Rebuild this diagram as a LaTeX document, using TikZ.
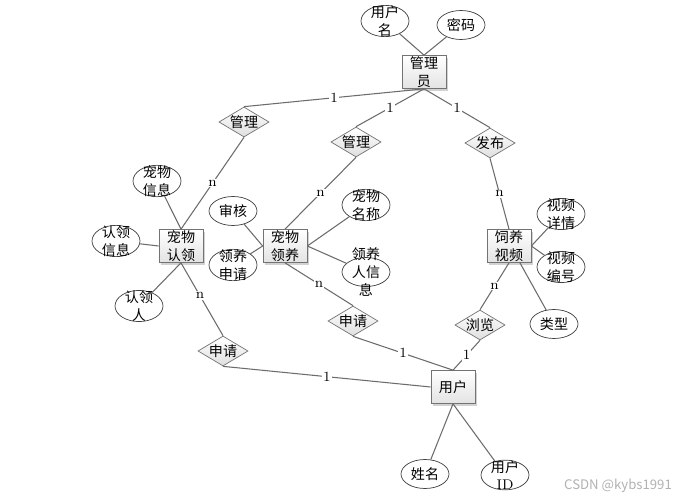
\documentclass[tikz,border=0pt]{standalone}
\usepackage{fontspec}
\newfontfamily\cjk{Noto Sans CJK SC}
\usetikzlibrary{shapes.geometric, shadows}

\tikzset{
	entity/.style={draw=gray!90!black, top color=white, bottom color=gray!22, minimum width=0.88cm, minimum height=0.66cm, inner sep=0.5pt, align=center, drop shadow={shadow xshift=1.2pt, shadow yshift=-1.2pt, fill=black!35, opacity=0.5}},
	attr/.style={ellipse, draw=black!75, fill=white, minimum width=0.96cm, minimum height=0.58cm, inner xsep=0pt, inner ysep=-2.4pt, align=center},
	rel/.style={diamond, draw=gray!90!black, top color=white, bottom color=gray!25, minimum width=1cm, minimum height=0.6cm, inner sep=0pt, aspect=1.7},
	link/.style={draw=gray!85!black, line width=0.6pt},
	card/.style={fill=white, inner sep=0.6pt, font=\rmfamily\fontsize{8}{9}\selectfont},
}

\begin{document}
\begin{tikzpicture}[x=0.02cm, y=-0.02cm, font=\cjk\fontsize{8}{10}\selectfont]
	\useasboundingbox[fill=white] (0,0) rectangle (679,500);
	% entities
	\node[entity] (gly) at (424,72) {管理\\员};
	\node[entity] (cwrl) at (181,246) {宠物\\认领};
	\node[entity] (cwly) at (285,246) {宠物\\领养};
	\node[entity] (slsp) at (509,246) {饲养\\视频};
	\node[entity] (yh) at (453,387) {用户};
	% relations
	\node[rel] (gl1) at (244,122) {管理};
	\node[rel] (gl2) at (356,142) {管理};
	\node[rel] (fb) at (490,143) {发布};
	\node[rel] (sq2) at (353,321) {申请};
	\node[rel] (ll) at (480,325) {浏览};
	\node[rel] (sq1) at (223,351) {申请};
	% attributes
	\node[attr] (yhm) at (385,21) {用户\\名};
	\node[attr] (mm) at (461,25) {密码};
	\node[attr] (cwxx) at (157,181) {宠物\\信息};
	\node[attr] (rlxx) at (116,241) {认领\\信息};
	\node[attr] (rlr) at (139,306) {认领\\人};
	\node[attr] (sh) at (233,211) {审核};
	\node[attr] (lysq) at (233,265) {领养\\申请};
	\node[attr] (cwmc) at (366,205) {宠物\\名称};
	\node[attr, label={[align=center]center:领养\\人信\\息}] (lyrxx) at (366,272) {};
	\node[attr] (spxq) at (561,214) {视频\\详情};
	\node[attr] (spbh) at (561,267) {视频\\编号};
	\node[attr] (lx) at (554,324) {类型};
	\node[attr] (xm) at (425,474) {姓名};
	\node[attr] (yhid) at (505,475) {用户\\{\rmfamily ID}};

	% attribute links
	\draw[link] (yhm) -- (gly.north);
	\draw[link] (mm) -- (gly.north);
	\draw[link] (cwxx) -- (cwrl.north);
	\draw[link] (rlxx) -- (cwrl.west);
	\draw[link] (rlr) -- (cwrl.south);
	\draw[link] (sh) -- (cwly.west);
	\draw[link] (lysq) -- (cwly.west);
	\draw[link] (cwmc) -- (cwly.east);
	\draw[link] (lyrxx) -- (cwly.east);
	\draw[link] (spxq) -- (slsp.east);
	\draw[link] (spbh) -- (slsp.east);
	\draw[link] (lx) -- (slsp.-57);
	\draw[link] (xm) -- (yh.south);
	\draw[link] (yhid) -- (yh.south);

	% relation links
	\draw[link] (gly.south) -- node[card] {1} (gl1.north);
	\draw[link] (gly.south) -- node[card] {1} (gl2.north);
	\draw[link] (gly.south) -- node[card] {1} (fb.north);
	\draw[link] (gl1.south) -- node[card] {n} (cwrl.north);
	\draw[link] (gl2.south) -- node[card] {n} (cwly.north);
	\draw[link] (fb.south) -- node[card] {n} (slsp.north);
	\draw[link] (cwrl.south) -- node[card, pos=0.45] {n} (sq1.north);
	\draw[link] (cwly.south) -- node[card] {n} (sq2.north);
	\draw[link] (slsp.south) -- node[card] {n} (ll.north);
	\draw[link] (sq2.south) -- node[card] {1} (yh.north);
	\draw[link] (ll.south) -- node[card] {1} (yh.north);
	\draw[link] (sq1.south) -- node[card] {1} (yh.west);

	\node[text=gray!60, font=\cjk\fontsize{7.5}{9}\selectfont] (mark) at (618,486) {CSDN @kybs1991};
\end{tikzpicture}
\end{document}
